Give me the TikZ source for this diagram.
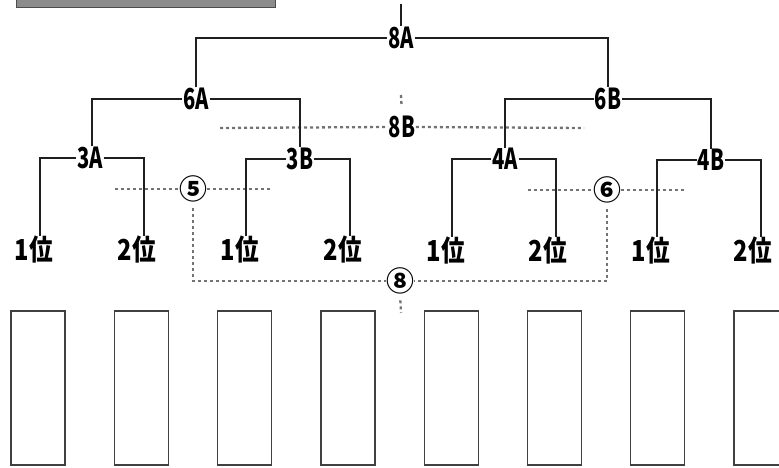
\documentclass[tikz,border=0pt]{standalone}
\usepackage{fontspec}
\newfontfamily\jpA[FakeStretch=0.7]{Noto Sans CJK JP}
\newfontfamily\jpB[FakeStretch=0.82]{Noto Sans CJK JP}
\newfontfamily\jpC{Noto Sans CJK JP}
\begin{document}
\begin{tikzpicture}[x=1bp,y=-1bp,
  tree/.style={line width=2.8bp,draw=black!88},
  dots/.style={line width=2.3bp,draw=black!55,dash pattern=on 3bp off 3bp},
  lbl/.style={inner sep=0.5bp,font=\jpA\bfseries\fontsize{29}{29}\selectfont},
  rank/.style={inner sep=0.5bp,font=\jpB\bfseries\fontsize{29}{29}\selectfont},
  circ/.style={inner sep=0bp,font=\jpC\bfseries\fontsize{28}{28}\selectfont},
  slot/.style={draw=black!75,line width=1.3bp}]
\useasboundingbox (0,0) rectangle (779,468);
% top bar
\fill[black!45,draw=black!70,line width=1bp] (16,-5) rectangle (275,8);
% labels
\node[lbl] (n8A) at (401,38) {8A};
\node[lbl] (n6A) at (196,99) {6A};
\node[lbl] (n6B) at (608,99) {6B};
\node[lbl] (n3A) at (90,158) {3A};
\node[lbl] (n3B) at (300,159) {3B};
\node[lbl] (n4A) at (505,159) {4A};
\node[lbl] (n4B) at (711,160) {4B};
\node[lbl] (n8B) at (402,127) {8B};
\node[rank] (r1) at (34,250) {1位};
\node[rank] (r2) at (137,250) {2位};
\node[rank] (r3) at (240,250) {1位};
\node[rank] (r4) at (343,250) {2位};
\node[rank] (r5) at (446,251) {1位};
\node[rank] (r6) at (548,251) {2位};
\node[rank] (r7) at (651,251) {1位};
\node[rank] (r8) at (753,251) {2位};
\node[circ] (c5) at (193,189) {⑤};
\node[circ] (c6) at (607,190) {⑥};
\node[circ] (c8) at (400,281) {⑧};
% free ends
\coordinate (top) at (401,4);
\coordinate (b8L) at (220,128);
\coordinate (b8R) at (584,128);
\coordinate (b8T) at (401,95);
\coordinate (f5L) at (115,189);
\coordinate (f5R) at (273,189);
\coordinate (f6L) at (528,190);
\coordinate (f6R) at (686,190);
\coordinate (f8B) at (401,313);
% dotted lines
\draw[dots] (b8L) -- (n8B.west);
\draw[dots] (n8B.east) -- (b8R);
\draw[dots,shorten >=9bp] (b8T) -- (n8B.north);
\draw[dots] (f5L) -- (c5.west);
\draw[dots] (c5.east) -- (f5R);
\draw[dots] (f6L) -- (c6.west);
\draw[dots] (c6.east) -- (f6R);
\draw[dots,shorten <=6bp] (c5.south) |- (c8.west);
\draw[dots,shorten <=6bp] (c6.south) |- (c8.east);
\draw[dots,shorten <=6bp] (c8.south) -- (f8B);
% tree
\draw[tree] (top) -- (n8A.north);
\draw[tree] (n6A.north) |- (n8A.west);
\draw[tree] (n8A.east) -| (n6B.north);
\draw[tree] ([xshift=2bp]n3A.north) |- (n6A.west);
\draw[tree] (n6A.east) -| (n3B.north);
\draw[tree] (n4A.north) |- (n6B.west);
\draw[tree] (n6B.east) -| (n4B.north);
\draw[tree] ([xshift=6bp]r1.north) |- (n3A.west);
\draw[tree] (n3A.east) -| ([xshift=7bp]r2.north);
\draw[tree] ([xshift=6bp]r3.north) |- (n3B.west);
\draw[tree] (n3B.east) -| ([xshift=7bp]r4.north);
\draw[tree] ([xshift=6bp]r5.north) |- (n4A.west);
\draw[tree] (n4A.east) -| ([xshift=8bp]r6.north);
\draw[tree] ([xshift=6bp]r7.north) |- (n4B.west);
\draw[tree] (n4B.east) -| ([xshift=8bp]r8.north);
% slots
\foreach \i in {0,...,7}{
  \draw[slot] (11+103.3*\i,311) rectangle ++(54,154);
}
\end{tikzpicture}
\end{document}
